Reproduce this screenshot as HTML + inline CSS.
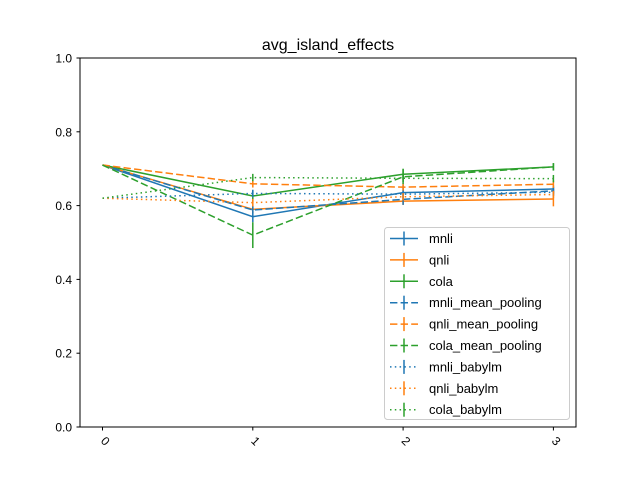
<!DOCTYPE html>
<html><head><meta charset="utf-8"><style>
body{margin:0;background:#fff;}
svg{display:block;font-family:"Liberation Sans","DejaVu Sans",sans-serif;}
</style></head><body>
<svg id="chart" width="640" height="480">
<rect width="640" height="480" fill="#fff"/>
<text x="328" y="50" font-size="16" text-anchor="middle">avg_island_effects</text>
<g id="plot"></g>
<rect x="80" y="58" width="496" height="369" fill="none" stroke="#000" stroke-width="1"/>
</svg>
<script>
const categories=[0,1,2,3];
const seriesNames=["mnli","qnli","cola","mnli_mean_pooling","qnli_mean_pooling","cola_mean_pooling","mnli_babylm","qnli_babylm","cola_babylm"];
const mnli=[0.71,0.570,0.635,0.645];
const qnli=[0.71,0.590,0.612,0.618];
const cola=[0.71,0.626,0.685,0.705];
const mnliMean=[0.71,0.588,0.617,0.640];
const qnliMean=[0.71,0.659,0.650,0.658];
const colaMean=[0.71,0.520,0.678,0.705];
const mnliBaby=[0.62,0.633,0.631,0.636];
const qnliBaby=[0.62,0.608,0.624,0.630];
const colaBaby=[0.62,0.676,0.674,0.673];
const mnliErr=[0,0.015,0.02,0.01];
const qnliErr=[0,0.01,0.01,0.02];
const colaErr=[0,0.015,0.015,0.01];
const mnliMeanErr=[0,0.01,0.015,0.01];
const qnliMeanErr=[0,0.01,0.01,0.01];
const colaMeanErr=[0,0.035,0.02,0.01];
const mnliBabyErr=[0,0.01,0.01,0.01];
const qnliBabyErr=[0,0.01,0.01,0.01];
const colaBabyErr=[0,0.01,0.01,0.01];
const yTicks=[0.0,0.2,0.4,0.6,0.8,1.0];
const yTickLabels=["0.0","0.2","0.4","0.6","0.8","1.0"];

const values=[mnli,qnli,cola,mnliMean,qnliMean,colaMean,mnliBaby,qnliBaby,colaBaby];
const errs=[mnliErr,qnliErr,colaErr,mnliMeanErr,qnliMeanErr,colaMeanErr,mnliBabyErr,qnliBabyErr,colaBabyErr];
const colors=["#1f77b4","#ff7f0e","#2ca02c"];
const dashes=["none","7.4,3.2","1.5,3.3"];
const NS="http://www.w3.org/2000/svg";
const svg=document.getElementById('chart');
const g=document.getElementById('plot');
function xS(v){return 102.5+v*150.3;}
function yS(v){return 427-v*369;}
function mk(t,a,p){const e=document.createElementNS(NS,t);for(const k in a)e.setAttribute(k,a[k]);(p||g).appendChild(e);return e;}
// y ticks
yTicks.forEach((t,i)=>{
  const l=mk('line',{x1:76.5,x2:80,y1:yS(t),y2:yS(t),stroke:'#000'},svg);
  
  
  const tx=mk('text',{x:72,y:yS(t)+4.5,'font-size':12,'text-anchor':'end'},svg);
  tx.textContent=yTickLabels[i];
  
  
});
categories.forEach(c=>{
  const l=mk('line',{x1:xS(c),x2:xS(c),y1:427,y2:430.5,stroke:'#000'},svg);
  
  
  const tx=mk('text',{x:0,y:0,'font-size':12,'text-anchor':'middle',transform:`translate(${xS(c)},444) rotate(45)`},svg);
  tx.textContent=String(c);
  
  
});
values.forEach((vals,si)=>{
  const col=colors[si%3],da=dashes[Math.floor(si/3)];
  const sg=mk('g',{});
  
  
  const pts=categories.map((c,i)=>xS(c)+','+yS(vals[i])).join(' ');
  mk('polyline',{points:pts,fill:'none',stroke:col,'stroke-width':1.5,'stroke-dasharray':da},sg);
  categories.forEach((c,i)=>{
    const e=errs[si][i];
    if(e>0){
      const b=mk('line',{x1:xS(c),x2:xS(c),y1:yS(vals[i]-e),y2:yS(vals[i]+e),stroke:col,'stroke-width':1.5},sg);
      
      
    }
  });
});
// legend
const lg=mk('g',{},svg);


mk('rect',{x:384.5,y:227.5,width:185,height:192,rx:3,fill:'#fff','fill-opacity':0.8,stroke:'#ccc'},lg);
seriesNames.forEach((n,si)=>{
  const y=238.5+si*21.4,col=colors[si%3],da=dashes[Math.floor(si/3)];
  const e=mk('g',{},lg);
  
  
  mk('line',{x1:390,x2:418,y1:y,y2:y,stroke:col,'stroke-width':1.5,'stroke-dasharray':da},e);
  mk('line',{x1:404,x2:404,y1:y-7,y2:y+7,stroke:col,'stroke-width':1.5},e);
  const t=mk('text',{x:429,y:y+4.5,'font-size':13},e);
  t.textContent=n;
});
</script>
</body></html>
